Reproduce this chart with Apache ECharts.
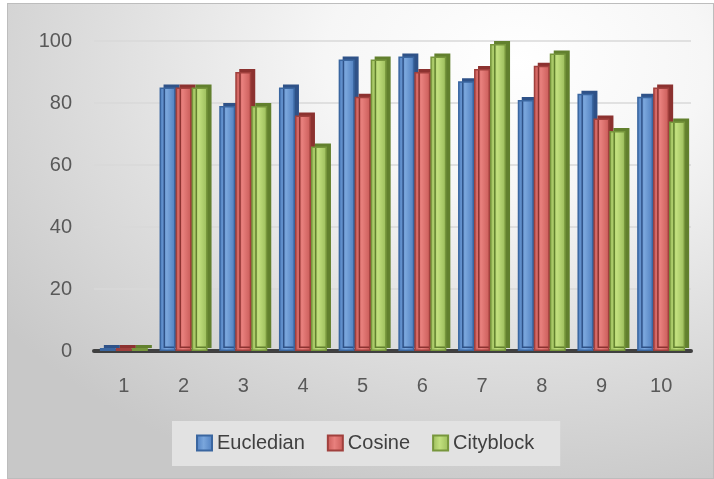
<!DOCTYPE html>
<html>
<head>
<meta charset="utf-8">
<script src="https://cdn.jsdelivr.net/npm/echarts@6/dist/echarts.min.js"></script>
<style>
    html, body { margin: 0; padding: 0; background: #ffffff; }
    #chart {
        position: absolute;
        left: 7px;
        top: 3px;
        width: 705px;
        height: 474px;
        border: 1px solid #bdbdbd;
        background: radial-gradient(ellipse 90% 95% at 72% 12%, #ffffff 0%, #f6f6f6 30%, #dedede 65%, #c8c8c8 100%);
    }
</style>
</head>
<body>
<div id="chart"></div>
<script>
// values
const categories = ['1', '2', '3', '4', '5', '6', '7', '8', '9', '10'];
const eucledian = [0, 85, 79, 85, 94, 95, 87, 81, 83, 82];
const cosine = [0, 85, 90, 76, 82, 90, 91, 92, 75, 85];
const cityblock = [0, 85, 79, 66, 94, 95, 99, 96, 71, 74];
const yTicks = { min: 0, max: 100, interval: 20 };

function barStyle(edge, mid, border, side) {
    return {
        color: {
            type: 'linear', x: 0, y: 0, x2: 1, y2: 0,
            colorStops: [
                { offset: 0, color: edge },
                { offset: 0.45, color: mid },
                { offset: 1, color: edge }
            ]
        },
        borderColor: border,
        borderWidth: 1.5,
        shadowColor: side,
        shadowOffsetX: 4,
        shadowOffsetY: -3,
        shadowBlur: 0
    };
}

function makeSeries(name, data, style) {
    return {
        name: name,
        type: 'bar',
        data: data,
        barWidth: 16,
        barGap: '0%',
        barMinHeight: 3,
        itemStyle: style
    };
}

const chart = echarts.init(document.getElementById('chart'));

chart.setOption({
    backgroundColor: 'transparent',
    textStyle: { fontFamily: 'Liberation Sans' },
    grid: { left: 86, right: 22, top: 37, bottom: 127 },
    legend: {
        left: 164,
        top: 417,
        padding: [12, 26, 13, 24],
        backgroundColor: '#e2e2e2',
        itemWidth: 15,
        itemHeight: 15,
        itemGap: 22,
        icon: 'rect',
        textStyle: { fontSize: 20, color: '#404040', fontFamily: 'Liberation Sans' }
    },
    xAxis: {
        type: 'category',
        data: categories,
        axisLine: { lineStyle: { color: '#404040', width: 4 } },
        axisTick: { show: false },
        axisLabel: { fontSize: 20, color: '#595959', margin: 25 }
    },
    yAxis: {
        type: 'value',
        min: yTicks.min,
        max: yTicks.max,
        interval: yTicks.interval,
        axisLine: { show: false },
        axisTick: { show: false },
        axisLabel: { fontSize: 20, color: '#595959', margin: 22 },
        splitLine: { lineStyle: { color: '#d9d9d9', width: 1.5 } }
    },
    series: [
        makeSeries('Eucledian', eucledian, barStyle('#4f7fc0', '#7aa6dc', '#3a66a0', '#2f5288')),
        makeSeries('Cosine', cosine, barStyle('#c85a57', '#e8807d', '#a0403d', '#8c3230')),
        makeSeries('Cityblock', cityblock, barStyle('#9abb5a', '#c2e07e', '#77963c', '#62802e'))
    ]
});
</script>
</body>
</html>
